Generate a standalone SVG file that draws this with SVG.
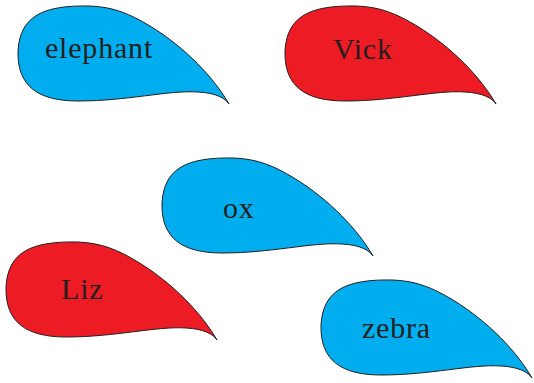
<svg xmlns="http://www.w3.org/2000/svg" xmlns:xlink="http://www.w3.org/1999/xlink" width="534" height="383" viewBox="0 0 534 383">
<style>
.blue{fill:#00aeef;stroke:#231f20;stroke-width:1}
.red{fill:#ed1c24;stroke:#231f20;stroke-width:1}
.lbl{font-family:"Liberation Serif","DejaVu Serif",serif;font-size:30px;letter-spacing:0.8px;fill:#231f20}
</style>
<defs>
<path id="drop" d="M211,98 C196,72 168,42 132,20 C112,8 96,1 72,0 C25,-1 2,10 0,45 C-1,80 20,95 60,95 C110,95 150,84 180,86 C198,87 207,92 211,98 Z"/>
</defs>
<rect width="534" height="383" fill="#ffffff"/>
<g id="elephant">
<use xlink:href="#drop" href="#drop" class="blue" transform="translate(18,6)"/>
<text class="lbl" x="45" y="58">elephant</text>
</g>
<g id="vick">
<use xlink:href="#drop" href="#drop" class="red" transform="translate(285,6)"/>
<text class="lbl" x="333" y="59">Vick</text>
</g>
<g id="ox">
<use xlink:href="#drop" href="#drop" class="blue" transform="translate(162,158)"/>
<text class="lbl" x="223" y="218">ox</text>
</g>
<g id="liz">
<use xlink:href="#drop" href="#drop" class="red" transform="translate(6,242)"/>
<text class="lbl" x="61" y="299">Liz</text>
</g>
<g id="zebra">
<use xlink:href="#drop" href="#drop" class="blue" transform="translate(321,280)"/>
<text class="lbl" x="362" y="338">zebra</text>
</g>
<g id="connectors"/>
</svg>
